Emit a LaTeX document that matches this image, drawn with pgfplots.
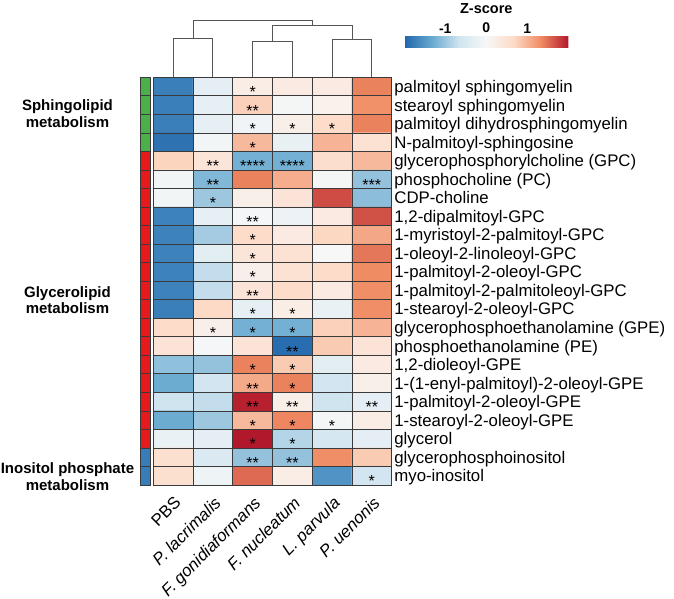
\documentclass[border=0pt]{standalone}
\usepackage{pgfplots}
\pgfplotsset{compat=1.18}
\usepackage{fontspec}
\setmainfont{Liberation Sans}

\definecolor{cellline}{HTML}{3A3A3A}
\definecolor{dendro}{HTML}{555555}
\definecolor{grpgreen}{HTML}{4DAF4A}
\definecolor{grpred}{HTML}{E41A1C}
\definecolor{grpblue}{HTML}{377EB8}

\begin{document}
\begin{tikzpicture}
\useasboundingbox (0pt,-598pt) rectangle (674pt,0pt);

% column dendrogram
\begin{axis}[at={(153.3pt,-77.3pt)}, anchor=south west, scale only axis,
    width=238.4pt, height=60pt, xmin=-0.5, xmax=5.5, ymin=0, ymax=60,
    hide axis, clip=false]
  \addplot[dendro, line width=0.9pt] coordinates {(0,0) (0,38.7) (1,38.7) (1,0)};
  \addplot[dendro, line width=0.9pt] coordinates {(2,0) (2,36.3) (3,36.3) (3,0)};
  \addplot[dendro, line width=0.9pt] coordinates {(4,0) (4,37.7) (5,37.7) (5,0)};
  \addplot[dendro, line width=0.9pt] coordinates {(2.5,36.3) (2.5,52) (4.5,52) (4.5,37.7)};
  \addplot[dendro, line width=0.9pt] coordinates {(0.5,38.7) (0.5,57) (3.5,57) (3.5,52)};
\end{axis}

% row annotation strip
\begin{axis}[at={(140pt,-485pt)}, anchor=south west, scale only axis,
    width=10.7pt, height=407.7pt, xmin=0, xmax=1, ymin=0.5, ymax=22.5,
    y dir=reverse, hide axis, clip=false]
  \addplot[xbar, bar width=1, bar shift=0pt, fill=grpgreen, draw=cellline, line width=0.7pt]
    coordinates {(1,1) (1,2) (1,3) (1,4)};
  \addplot[xbar, bar width=1, bar shift=0pt, fill=grpred, draw=cellline, line width=0.7pt]
    coordinates {(1,5) (1,6) (1,7) (1,8) (1,9) (1,10) (1,11) (1,12) (1,13) (1,14)
                 (1,15) (1,16) (1,17) (1,18) (1,19) (1,20)};
  \addplot[xbar, bar width=1, bar shift=0pt, fill=grpblue, draw=cellline, line width=0.7pt]
    coordinates {(1,21) (1,22)};
  \node[font=\fontsize{15}{16.7}\selectfont\bfseries, align=center]
    at (axis cs:-6.78,2.45) {Sphingolipid\\metabolism};
  \node[font=\fontsize{15}{16.7}\selectfont\bfseries, align=center]
    at (axis cs:-6.78,12.52) {Glycerolipid\\metabolism};
  \node[font=\fontsize{15}{16.7}\selectfont\bfseries, align=center]
    at (axis cs:-6.78,22.05) {Inositol phosphate\\metabolism};
\end{axis}

% heatmap
\begin{axis}[at={(153.3pt,-485pt)}, anchor=south west, scale only axis,
    width=238.4pt, height=407.7pt,
    xmin=-0.5, xmax=5.5, ymin=0.5, ymax=22.5, y dir=reverse,
    enlargelimits=false, axis on top,
    axis line style={cellline, line width=0.7pt},
    major tick length=0pt,
    xtick={0,...,5},
    xticklabels={PBS, \textit{P. lacrimalis}, \textit{F. gonidiaformans},
                 \textit{F. nucleatum}, \textit{L. parvula}, \textit{P. uenonis}},
    xticklabel style={rotate=45, anchor=north east, inner sep=0pt,
                      xshift=-7pt, yshift=-7.5pt, font=\fontsize{16.8}{18}\selectfont},
    ytick={1,...,22},
    yticklabels={palmitoyl sphingomyelin, stearoyl sphingomyelin,
      palmitoyl dihydrosphingomyelin, N-palmitoyl-sphingosine,
      glycerophosphorylcholine (GPC), phosphocholine (PC), CDP-choline,
      {1,2-dipalmitoyl-GPC}, 1-myristoyl-2-palmitoyl-GPC,
      1-oleoyl-2-linoleoyl-GPC, 1-palmitoyl-2-oleoyl-GPC,
      1-palmitoyl-2-palmitoleoyl-GPC, 1-stearoyl-2-oleoyl-GPC,
      glycerophosphoethanolamine (GPE), phosphoethanolamine (PE),
      {1,2-dioleoyl-GPE}, 1-(1-enyl-palmitoyl)-2-oleoyl-GPE,
      1-palmitoyl-2-oleoyl-GPE, 1-stearoyl-2-oleoyl-GPE, glycerol,
      glycerophosphoinositol, myo-inositol},
    yticklabel pos=right,
    yticklabel style={anchor=base west, inner sep=0pt, xshift=2.5pt, yshift=-6pt,
                      font=\fontsize{16.8}{18}\selectfont},
    extra x ticks={-0.5,0.5,...,5.5}, extra x tick labels={},
    extra y ticks={0.5,1.5,...,22.5}, extra y tick labels={},
    extra tick style={grid=major, major grid style={cellline, line width=0.7pt}},
    colormap={rdbu}{rgb255=(33,102,172) rgb255=(103,169,207) rgb255=(209,229,240)
      rgb255=(247,247,247) rgb255=(253,219,199) rgb255=(239,138,98) rgb255=(178,24,43)},
    point meta min=-2, point meta max=2,
    colorbar horizontal,
    colorbar style={at={(1.0529,1.0726)}, anchor=south west, scale only axis,
      width=164pt, height=11pt, axis line style={draw=none},
      major tick length=0pt, ytick=\empty,
      xtick={-1,0,1}, xticklabels={-1,0,1}, xticklabel pos=upper,
      xticklabel style={anchor=south, inner sep=0pt, yshift=3.5pt,
                        font=\fontsize{14}{14}\selectfont\bfseries},
      title={Z-score},
      title style={at={(0.5,1)}, anchor=base, yshift=17pt,
                   font=\fontsize{14.5}{14.5}\selectfont\bfseries}},
  ]
  \addplot[matrix plot, mesh/cols=6, point meta=explicit] coordinates {
    (0,1) [-1.75] (1,1) [-0.33] (2,1) [0.25] (3,1) [0.30] (4,1) [0.30] (5,1) [1.38]
    (0,2) [-1.75] (1,2) [-0.30] (2,2) [0.75] (3,2) [-0.05] (4,2) [0.15] (5,2) [1.28]
    (0,3) [-1.75] (1,3) [-0.30] (2,3) [-0.12] (3,3) [0.20] (4,3) [0.62] (5,3) [1.38]
    (0,4) [-1.88] (1,4) [-0.08] (2,4) [0.95] (3,4) [-0.25] (4,4) [1.00] (5,4) [0.50]
    (0,5) [0.72] (1,5) [0.42] (2,5) [-1.25] (3,5) [-1.25] (4,5) [0.60] (5,5) [0.95]
    (0,6) [-0.08] (1,6) [-1.17] (2,6) [1.38] (3,6) [1.05] (4,6) [-0.05] (5,6) [-1.05]
    (0,7) [-0.08] (1,7) [-1.00] (2,7) [0.20] (3,7) [0.45] (4,7) [1.70] (5,7) [-1.10]
    (0,8) [-1.72] (1,8) [-0.30] (2,8) [-0.03] (3,8) [-0.20] (4,8) [0.30] (5,8) [1.67]
    (0,9) [-1.72] (1,9) [-0.95] (2,9) [0.62] (3,9) [0.30] (4,9) [0.70] (5,9) [1.10]
    (0,10) [-1.72] (1,10) [-0.35] (2,10) [0.42] (3,10) [0.50] (4,10) [0.00] (5,10) [1.45]
    (0,11) [-1.72] (1,11) [-0.75] (2,11) [0.18] (3,11) [0.50] (4,11) [0.62] (5,11) [1.32]
    (0,12) [-1.72] (1,12) [-0.75] (2,12) [0.45] (3,12) [0.62] (4,12) [0.30] (5,12) [1.30]
    (0,13) [-1.75] (1,13) [0.68] (2,13) [-0.30] (3,13) [0.25] (4,13) [-0.22] (5,13) [1.30]
    (0,14) [0.62] (1,14) [0.18] (2,14) [-1.25] (3,14) [-1.25] (4,14) [0.75] (5,14) [1.00]
    (0,15) [0.45] (1,15) [-0.03] (2,15) [0.45] (3,15) [-1.93] (4,15) [0.80] (5,15) [0.45]
    (0,16) [-1.08] (1,16) [-1.05] (2,16) [1.38] (3,16) [0.80] (4,16) [-0.35] (5,16) [0.30]
    (0,17) [-1.30] (1,17) [-0.65] (2,17) [1.08] (3,17) [1.38] (4,17) [-0.65] (5,17) [0.20]
    (0,18) [-0.68] (1,18) [-0.75] (2,18) [1.95] (3,18) [0.20] (4,18) [-0.68] (5,18) [-0.33]
    (0,19) [-1.30] (1,19) [-1.00] (2,19) [0.95] (3,19) [1.35] (4,19) [-0.05] (5,19) [0.25]
    (0,20) [-0.22] (1,20) [-0.33] (2,20) [2.00] (3,20) [-0.85] (4,20) [-0.60] (5,20) [-0.33]
    (0,21) [0.55] (1,21) [-0.50] (2,21) [-1.05] (3,21) [-1.05] (4,21) [1.30] (5,21) [0.80]
    (0,22) [0.55] (1,22) [-0.15] (2,22) [1.52] (3,22) [0.25] (4,22) [-1.55] (5,22) [-0.65]
  };
  % significance stars
  \addplot[only marks, mark=none,
    nodes near coords, point meta=explicit symbolic,
    nodes near coords style={anchor=center, inner sep=0pt, yshift=-5.5pt,
                             font=\fontsize{16}{16}\selectfont}]
    table[meta=s] {
x y s
2 1 *
2 2 **
2 3 *
3 3 *
4 3 *
2 4 *
1 5 **
2 5 ****
3 5 ****
1 6 **
5 6 ***
1 7 *
2 8 **
2 9 *
2 10 *
2 11 *
2 12 **
2 13 *
3 13 *
1 14 *
2 14 *
3 14 *
3 15 **
2 16 *
3 16 *
2 17 **
3 17 *
2 18 **
3 18 **
5 18 **
2 19 *
3 19 *
4 19 *
2 20 *
3 20 *
2 21 **
3 21 **
5 22 *
  };
\end{axis}
\end{tikzpicture}
\end{document}
